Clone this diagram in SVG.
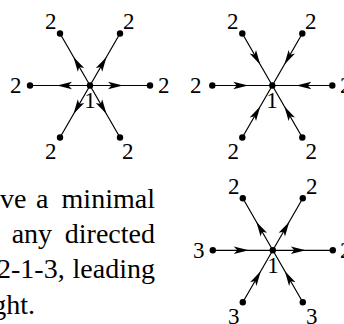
<svg xmlns="http://www.w3.org/2000/svg" xmlns:xlink="http://www.w3.org/1999/xlink" width="344" height="324" viewBox="0 0 344 324">
<style>
.e{stroke:#000;stroke-width:1.2;fill:none}
.d{fill:#000}
text{font-family:'Liberation Serif','Times New Roman',serif;fill:#000}
.l{font-size:23px}
.t{font-size:28px}
</style>
<defs>
<path id="ah" d="M0,0 L-15,-3.7 L-11.5,0 L-15,3.7 Z" fill="#000"/>
</defs>
<rect width="344" height="324" fill="#fff"/>
<g id="connectors">
<g id="c1">
<path class="e" d="M30,85.5H150M60,33.5L120,137.5M120,33.5L60,137.5"/>
<use xlink:href="#ah" transform="translate(123,85.5)"/>
<use xlink:href="#ah" transform="translate(57,85.5) rotate(180)"/>
<use xlink:href="#ah" transform="translate(106.5,56.92) rotate(-60)"/>
<use xlink:href="#ah" transform="translate(73.5,56.92) rotate(-120)"/>
<use xlink:href="#ah" transform="translate(106.5,114.08) rotate(60)"/>
<use xlink:href="#ah" transform="translate(73.5,114.08) rotate(120)"/>
</g>
<g id="c2">
<path class="e" d="M212.3,85.5H332.3M242.3,33.5L302.3,137.5M302.3,33.5L242.3,137.5"/>
<use xlink:href="#ah" transform="translate(248.3,85.5)"/>
<use xlink:href="#ah" transform="translate(296.3,85.5) rotate(180)"/>
<use xlink:href="#ah" transform="translate(260.3,64.72) rotate(60)"/>
<use xlink:href="#ah" transform="translate(284.3,64.72) rotate(120)"/>
<use xlink:href="#ah" transform="translate(260.3,106.28) rotate(-60)"/>
<use xlink:href="#ah" transform="translate(284.3,106.28) rotate(-120)"/>
</g>
<g id="c3">
<path class="e" d="M212.8,250.3H332.8M242.8,198.3L302.8,302.3M302.8,198.3L242.8,302.3"/>
<use xlink:href="#ah" transform="translate(248.8,250.3)"/>
<use xlink:href="#ah" transform="translate(305.8,250.3)"/>
<use xlink:href="#ah" transform="translate(256.3,221.72) rotate(-120)"/>
<use xlink:href="#ah" transform="translate(289.3,221.72) rotate(-60)"/>
<use xlink:href="#ah" transform="translate(260.8,271.08) rotate(-60)"/>
<use xlink:href="#ah" transform="translate(284.8,271.08) rotate(-120)"/>
</g>
</g>
<g id="star1">
<g id="s1-center"><circle class="d" cx="90" cy="85.5" r="3.2"/><text class="l" x="90" y="108" text-anchor="middle">1</text></g>
<g id="s1-left"><circle class="d" cx="30" cy="85.5" r="3.2"/><text class="l" x="10" y="93">2</text></g>
<g id="s1-right"><circle class="d" cx="150" cy="85.5" r="3.2"/><text class="l" x="158" y="93">2</text></g>
<g id="s1-ul"><circle class="d" cx="60" cy="33.5" r="3.2"/><text class="l" x="45" y="29">2</text></g>
<g id="s1-ur"><circle class="d" cx="120" cy="33.5" r="3.2"/><text class="l" x="123" y="29">2</text></g>
<g id="s1-ll"><circle class="d" cx="60" cy="137.5" r="3.2"/><text class="l" x="45" y="159">2</text></g>
<g id="s1-lr"><circle class="d" cx="120" cy="137.5" r="3.2"/><text class="l" x="122" y="159">2</text></g>
</g>
<g id="star2">
<g id="s2-center"><circle class="d" cx="272.3" cy="85.5" r="3.2"/><text class="l" x="272" y="108" text-anchor="middle">1</text></g>
<g id="s2-left"><circle class="d" cx="212.3" cy="85.5" r="3.2"/><text class="l" x="190" y="93">2</text></g>
<g id="s2-right"><circle class="d" cx="332.3" cy="85.5" r="3.2"/><text class="l" x="340" y="93">2</text></g>
<g id="s2-ul"><circle class="d" cx="242.3" cy="33.5" r="3.2"/><text class="l" x="227" y="29">2</text></g>
<g id="s2-ur"><circle class="d" cx="302.3" cy="33.5" r="3.2"/><text class="l" x="305" y="29">2</text></g>
<g id="s2-ll"><circle class="d" cx="242.3" cy="137.5" r="3.2"/><text class="l" x="227.5" y="159">2</text></g>
<g id="s2-lr"><circle class="d" cx="302.3" cy="137.5" r="3.2"/><text class="l" x="305.5" y="159">2</text></g>
</g>
<g id="star3">
<g id="s3-center"><circle class="d" cx="272.8" cy="250.3" r="3.2"/><text class="l" x="273" y="273" text-anchor="middle">1</text></g>
<g id="s3-left"><circle class="d" cx="212.8" cy="250.3" r="3.2"/><text class="l" x="193" y="258">3</text></g>
<g id="s3-right"><circle class="d" cx="332.8" cy="250.3" r="3.2"/><text class="l" x="340" y="258">2</text></g>
<g id="s3-ul"><circle class="d" cx="242.8" cy="198.3" r="3.2"/><text class="l" x="228" y="193.8">2</text></g>
<g id="s3-ur"><circle class="d" cx="302.8" cy="198.3" r="3.2"/><text class="l" x="306" y="193.8">2</text></g>
<g id="s3-ll"><circle class="d" cx="242.8" cy="302.3" r="3.2"/><text class="l" x="228" y="324.3">3</text></g>
<g id="s3-lr"><circle class="d" cx="302.8" cy="302.3" r="3.2"/><text class="l" x="306" y="324.3">3</text></g>
</g>
<g id="caption">
<text class="t" y="208"><tspan x="0">ve</tspan><tspan x="36">a</tspan><tspan x="61.6">minimal</tspan></text>
<text class="t" y="243"><tspan x="11.7">any</tspan><tspan x="64.8">directed</tspan></text>
<text class="t" y="278"><tspan x="-3">2-1-3,</tspan><tspan x="72.6">leading</tspan></text>
<text class="t" y="314"><tspan x="-7.8">ght.</tspan></text>
</g>
</svg>
